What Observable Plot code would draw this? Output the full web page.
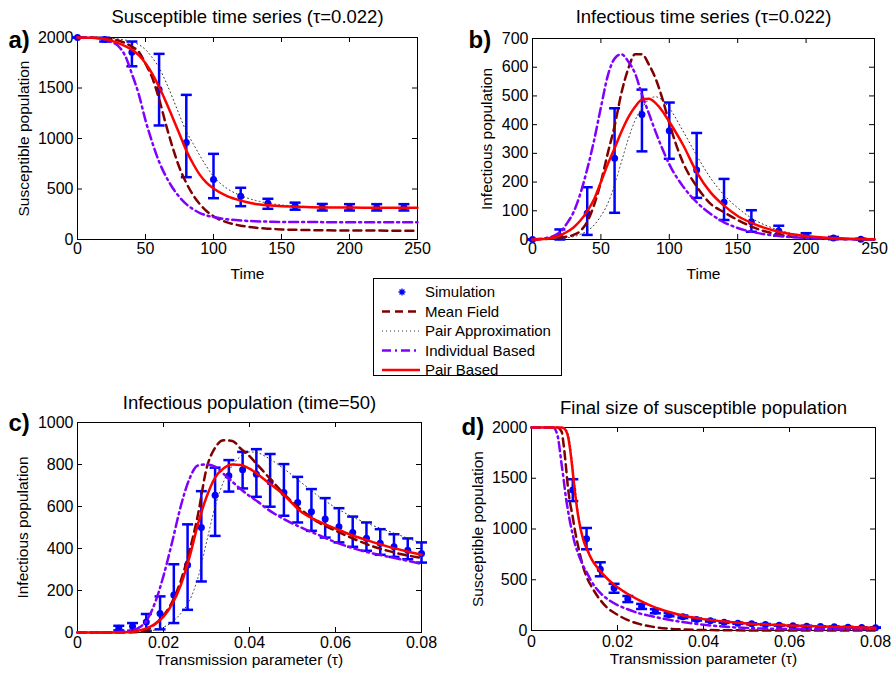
<!DOCTYPE html>
<html>
<head>
<meta charset="utf-8">
<script src="https://cdn.jsdelivr.net/npm/d3@7"></script>
<script src="https://cdn.jsdelivr.net/npm/@observablehq/plot@0.6"></script>
<style>
  body { margin: 0; background: #fff; }
  #root { position: relative; width: 894px; height: 676px; background: #fff;
          font-family: "Liberation Sans", Arial, Helvetica, sans-serif; }
  .panel { position: absolute; }
  .panel svg, #legend { overflow: visible; }
</style>
</head>
<body>
<div id="root"></div>
<script>
// ---------------- DATA ----------------
// Panels a) and b): time series (tau = 0.022)
const tGrid = [0,10,20,25,30,35,40,45,50,55,60,65,70,75,80,85,90,95,100,110,120,130,140,150,160,180,200,220,250];

const susMeanField  = [2000,2000,1995,1985,1970,1945,1910,1860,1740,1600,1390,1140,910,710,560,440,350,280,230,170,137,118,107,100,96,91,89,88,87];
const susPairApprox = [2000,2000,1997,1993,1985,1975,1958,1930,1880,1800,1700,1560,1400,1230,1070,950,830,720,625,505,435,390,360,342,332,322,318,316,315];
const susIndividual = [2000,1998,1980,1955,1915,1820,1640,1440,1180,960,770,625,510,420,350,300,262,238,222,200,188,181,177,174,173,172,171,170,170];
const susPairBased  = [2000,1998,1985,1968,1945,1915,1880,1825,1745,1640,1510,1365,1205,1045,880,750,640,560,505,430,385,355,338,328,325,318,316,315,315];

const infMeanField  = [0,2,6,10,16,30,62,120,200,300,395,510,595,645,645,610,560,490,405,268,185,125,95,68,45,17,6,2,0];
const infPairApprox = [0,1,4,6,10,18,30,50,82,125,190,270,350,415,458,487,497,485,458,378,293,215,155,110,75,33,13,5,1];
const infIndividual = [0,5,25,55,95,160,245,345,460,570,630,645,620,578,505,440,375,315,262,185,130,90,60,40,27,12,5,2,0];
const infPairBased  = [0,3,14,26,42,66,98,140,200,262,318,375,425,462,487,490,475,447,410,330,235,165,118,82,58,27,12,5,1];

const simTime    = [0,20,40,60,80,100,120,140,160,180,200,220,240];
const simSus     = [2000,1980,1855,1485,960,594,429,359,331,320,318,318,318];
const simSusLow  = [2000,1960,1715,1129,617,409,330,304,295,287,287,287,287];
const simSusHigh = [2000,1998,1960,1838,1432,848,512,403,365,352,350,350,350];
const simInf     = [0,10,91,283,435,379,242,130,62,30,13,5,1];
const simInfLow  = [0,0,16,93,307,281,145,68,27,13,4,1,0];
const simInfHigh = [0,35,182,457,522,477,371,211,102,48,22,9,3];

// Panel c): infectious population at time 50 vs tau
const tauC = [0,0.005,0.01,0.012,0.014,0.016,0.018,0.02,0.022,0.024,0.026,0.028,0.03,0.032,0.034,0.036,0.038,0.04,0.042,0.044,0.048,0.052,0.056,0.06,0.064,0.068,0.072,0.076,0.08];
const inf50MeanField  = [0,0,0,0,2,10,40,80,145,245,385,560,780,880,915,912,875,840,795,750,660,585,525,485,448,415,390,370,355];
const inf50PairApprox = [0,0,0,1,2,5,12,25,50,90,150,260,430,600,720,795,840,860,855,835,780,715,650,595,550,515,485,455,425];
const inf50Individual = [0,0,3,8,20,55,140,270,430,600,730,795,800,790,755,718,682,650,622,590,540,500,465,430,402,380,362,345,326];
const inf50PairBased  = [0,0,0,2,8,20,40,75,135,225,355,515,645,738,782,800,798,780,752,720,655,575,530,495,462,435,410,389,370];

const simTau = [0.0096,0.0128,0.016,0.0192,0.0224,0.0256,0.0288,0.032,0.0352,0.0384,0.0416,0.0448,0.048,0.0512,0.0544,0.0576,0.0608,0.064,0.0672,0.0704,0.0736,0.0768,0.08];
const simInf50     = [20,30,50,90,178,322,500,654,746,775,754,717,667,619,575,540,503,476,449,425,408,392,376];
const simInf50Low  = [10,8,8,15,45,108,243,460,671,686,646,599,556,524,484,452,429,408,389,370,360,349,333];
const simInf50High = [32,45,88,172,325,515,673,785,821,860,873,850,802,741,683,640,592,552,524,492,468,448,429];

// Panel d): final size of susceptible population vs tau
const tauD = [0,0.005,0.006,0.007,0.0075,0.008,0.0085,0.009,0.0095,0.01,0.011,0.012,0.013,0.014,0.016,0.018,0.02,0.022,0.025,0.028,0.032,0.036,0.04,0.045,0.05,0.06,0.07,0.08];
const finalMeanField  = [2000,2000,2000,1960,1820,1620,1400,1250,1140,1010,800,630,510,430,300,210,155,110,65,38,18,9,5,2,1,0,0,0];
const finalPairApprox = [2000,2000,2000,2000,1998,1985,1940,1830,1660,1460,1130,930,810,715,595,500,430,372,302,243,185,142,113,89,71,50,37,28];
const finalIndividual = [2000,2000,1930,1640,1480,1310,1180,1060,960,870,740,640,560,480,370,300,250,215,170,140,105,78,57,37,25,15,12,14];
const finalPairBased  = [2000,2000,2000,2000,1995,1970,1910,1780,1600,1400,1090,900,790,700,585,495,425,370,300,240,182,140,112,88,70,50,37,28];

const simFinal     = [1385,905,603,418,310,237,190,155,135,108,96,82,72,66,59,52,46,43,39,36,33,30,28];
const simFinalLow  = [1275,800,534,372,280,212,170,140,122,98,88,75,66,60,54,48,42,39,36,33,30,28,26];
const simFinalHigh = [1490,1010,672,460,340,262,210,170,148,118,104,89,78,72,64,56,50,47,42,39,36,32,30];

// Ticks
const timeTicks = [0,50,100,150,200,250];
const tauTicks = [0,0.02,0.04,0.06,0.08];
const susTicks = [0,500,1000,1500,2000];
const infTicks = [0,100,200,300,400,500,600,700];
const inf50Ticks = [0,200,400,600,800,1000];

const legendLabels = ["Simulation","Mean Field","Pair Approximation","Individual Based","Pair Based"];

// ---------------- STYLE ----------------
const FONT = '"Liberation Sans", Arial, Helvetica, sans-serif';
const BLUE = "#0000ff", MFC = "#800000", PAC = "#333333", IBC = "#8000ff", PBC = "#ff0000";
const styles = {
  mf: {stroke: MFC, strokeWidth: 2.5, strokeDasharray: "8,5"},
  pa: {stroke: PAC, strokeWidth: 1, strokeDasharray: "1,3"},
  ib: {stroke: IBC, strokeWidth: 2.5, strokeDasharray: "9,4,2,4"},
  pb: {stroke: PBC, strokeWidth: 2.5}
};

const pairs = (xs, ys) => xs.map((x, i) => ({x, y: ys[i]}));
const cap = {draw(ctx) { ctx.moveTo(-5.5, 0); ctx.lineTo(5.5, 0); }};

function panel(c) {
  const innerW = c.width - c.ml - c.mr;
  const innerH = c.height - c.mt - c.mb;
  const sim = c.simX.map((x, i) => ({x, y: c.simY[i], lo: c.simLo[i], hi: c.simHi[i]}));
  const marks = [
    Plot.frame({stroke: "#000", strokeWidth: 1}),
    Plot.tickX(c.xTicks, {x: d => d, insetTop: innerH - 5, stroke: "#000"}),
    Plot.tickX(c.xTicks, {x: d => d, insetBottom: innerH - 5, stroke: "#000"}),
    Plot.tickY(c.yTicks, {y: d => d, insetRight: innerW - 5, stroke: "#000"}),
    Plot.tickY(c.yTicks, {y: d => d, insetLeft: innerW - 5, stroke: "#000"}),
    Plot.axisX({ticks: c.xTicks, tickSize: 0, tickPadding: c.xPad, tickFormat: c.xFormat, label: null, fontSize: 16}),
    Plot.axisY({ticks: c.yTicks, tickSize: 0, tickPadding: 4, tickFormat: d => String(d), label: null, fontSize: 16}),
    Plot.ruleX(sim, {x: "x", y1: "lo", y2: "hi", stroke: BLUE, strokeWidth: 2.5}),
    Plot.dot(sim, {x: "x", y: "lo", symbol: cap, fill: "none", stroke: BLUE, strokeWidth: 2.5}),
    Plot.dot(sim, {x: "x", y: "hi", symbol: cap, fill: "none", stroke: BLUE, strokeWidth: 2.5}),
    Plot.dot(sim, {x: "x", y: "y", r: 3.5, fill: BLUE, stroke: "none"}),
    Plot.line(pairs(c.grid, c.mf), {x: "x", y: "y", curve: "monotone-x", ...styles.mf}),
    Plot.line(pairs(c.grid, c.pa), {x: "x", y: "y", curve: "monotone-x", ...styles.pa}),
    Plot.line(pairs(c.grid, c.ib), {x: "x", y: "y", curve: "monotone-x", ...styles.ib}),
    Plot.line(pairs(c.grid, c.pb), {x: "x", y: "y", curve: "monotone-x", ...styles.pb}),
    Plot.text([c.title], {text: d => d, frameAnchor: "top", dy: c.titleDy, textAnchor: "middle", lineAnchor: "middle", fontSize: 18.5, fill: "#000"}),
    Plot.text([c.letter], {text: d => d, frameAnchor: "top-left", dx: c.letterDx, dy: c.letterDy, textAnchor: "start", lineAnchor: "middle", fontSize: 24, fontWeight: "bold", fill: "#000"}),
    Plot.text([c.xLabel], {text: d => d, frameAnchor: "bottom", dy: c.xLabelDy, textAnchor: "middle", lineAnchor: "middle", fontSize: 15.5, fill: "#000"}),
    Plot.text([c.yLabel], {text: d => d, frameAnchor: "left", dx: c.yLabelDx, rotate: -90, textAnchor: "middle", lineAnchor: "middle", fontSize: 15.5, fill: "#000"})
  ];
  const svg = Plot.plot({
    width: c.width, height: c.height,
    marginLeft: c.ml, marginRight: c.mr, marginTop: c.mt, marginBottom: c.mb,
    x: {domain: c.xDomain},
    y: {domain: c.yDomain},
    style: {fontFamily: FONT, fontSize: "16px", color: "#000", background: "transparent", overflow: "visible"},
    marks
  });
  const div = document.createElement("div");
  div.className = "panel";
  div.style.left = c.left + "px";
  div.style.top = c.top + "px";
  div.appendChild(svg);
  document.getElementById("root").appendChild(div);
}

const tauFormat = d => d === 0 ? "0" : d.toFixed(2);

panel({left: 0, top: 0, width: 447, height: 290, ml: 77, mr: 30, mt: 37, mb: 51,
  xDomain: [0, 250], yDomain: [0, 2000], xTicks: timeTicks, yTicks: susTicks, xFormat: d => String(d), xPad: 3,
  grid: tGrid, mf: susMeanField, pa: susPairApprox, ib: susIndividual, pb: susPairBased,
  simX: simTime, simY: simSus, simLo: simSusLow, simHi: simSusHigh,
  title: "Susceptible time series (\u03c4=0.022)", titleDy: -20,
  letter: "a)", letterDx: -69, letterDy: 3,
  xLabel: "Time", xLabelDy: 35, yLabel: "Susceptible population", yLabelDx: -53});

panel({left: 447, top: 0, width: 447, height: 290, ml: 85, mr: 20, mt: 38, mb: 51,
  xDomain: [0, 250], yDomain: [0, 700], xTicks: timeTicks, yTicks: infTicks, xFormat: d => String(d), xPad: 3,
  grid: tGrid, mf: infMeanField, pa: infPairApprox, ib: infIndividual, pb: infPairBased,
  simX: simTime, simY: simInf, simLo: simInfLow, simHi: simInfHigh,
  title: "Infectious time series (\u03c4=0.022)", titleDy: -21,
  letter: "b)", letterDx: -64, letterDy: 2,
  xLabel: "Time", xLabelDy: 35, yLabel: "Infectious population", yLabelDx: -45});

panel({left: 0, top: 380, width: 447, height: 296, ml: 77, mr: 26, mt: 42, mb: 44,
  xDomain: [0, 0.08], yDomain: [0, 1000], xTicks: tauTicks, yTicks: inf50Ticks, xFormat: tauFormat, xPad: 4,
  grid: tauC, mf: inf50MeanField, pa: inf50PairApprox, ib: inf50Individual, pb: inf50PairBased,
  simX: simTau, simY: simInf50, simLo: simInf50Low, simHi: simInf50High,
  title: "Infectious population (time=50)", titleDy: -19,
  letter: "c)", letterDx: -69, letterDy: 1,
  xLabel: "Transmission parameter (\u03c4)", xLabelDy: 28, yLabel: "Infectious population", yLabelDx: -54});

panel({left: 447, top: 380, width: 447, height: 296, ml: 84, mr: 19, mt: 47, mb: 46,
  xDomain: [0, 0.08], yDomain: [0, 2000], xTicks: tauTicks, yTicks: susTicks, xFormat: tauFormat, xPad: 5,
  grid: tauD, mf: finalMeanField, pa: finalPairApprox, ib: finalIndividual, pb: finalPairBased,
  simX: simTau, simY: simFinal, simLo: simFinalLow, simHi: simFinalHigh,
  title: "Final size of susceptible population", titleDy: -19,
  letter: "d)", letterDx: -70, letterDy: 0,
  xLabel: "Transmission parameter (\u03c4)", xLabelDy: 29, yLabel: "Susceptible population", yLabelDx: -53});

// ---------------- LEGEND ----------------
(function legend() {
  const W = 189, H = 98;
  const svg = d3.select("#root").append("svg")
    .attr("id", "legend")
    .attr("width", W).attr("height", H)
    .style("position", "absolute").style("left", "373px").style("top", "278px")
    .style("font-family", FONT).style("font-size", "15px");
  svg.append("rect").attr("x", 0.5).attr("y", 0.5).attr("width", W - 1).attr("height", H - 1)
    .attr("fill", "#fff").attr("stroke", "#000").attr("stroke-width", 1);
  const rowY = i => 14 + i * 19.5;
  const keys = [null, "mf", "pa", "ib", "pb"];
  legendLabels.forEach((label, i) => {
    const y = rowY(i);
    if (keys[i] === null) {
      const cx = 29, s = 3.5;
      svg.append("path")
        .attr("d", `M${cx - s},${y}H${cx + s}M${cx},${y - s}V${y + s}M${cx - s * 0.7},${y - s * 0.7}L${cx + s * 0.7},${y + s * 0.7}M${cx - s * 0.7},${y + s * 0.7}L${cx + s * 0.7},${y - s * 0.7}`)
        .attr("stroke", BLUE).attr("stroke-width", 1.3).attr("fill", "none");
    } else {
      const st = styles[keys[i]];
      svg.append("line").attr("x1", 9).attr("x2", 47).attr("y1", y).attr("y2", y)
        .attr("stroke", st.stroke).attr("stroke-width", st.strokeWidth)
        .attr("stroke-dasharray", st.strokeDasharray || null);
    }
    svg.append("text").attr("x", 52).attr("y", y).attr("dy", "0.35em")
      .attr("fill", "#000").text(label);
  });
})();
</script>
</body>
</html>
